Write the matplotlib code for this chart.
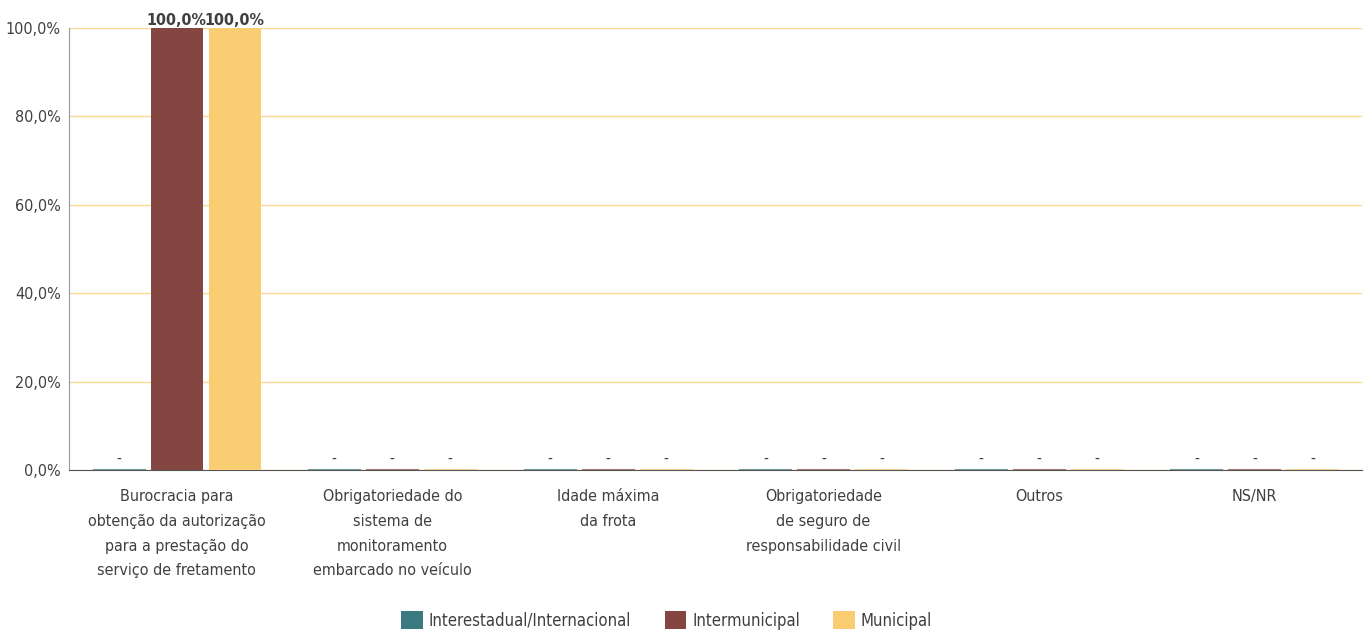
import numpy as np
import matplotlib.pyplot as plt

plt.rcParams['font.family'] = ['DejaVu Sans']
plt.rcParams['font.stretch'] = 'condensed'

categorias = ['Burocracia para\nobtenção da autorização\npara a prestação do\nserviço de fretamento',
              'Obrigatoriedade do\nsistema de\nmonitoramento\nembarcado no veículo',
              'Idade máxima\nda frota',
              'Obrigatoriedade\nde seguro de\nresponsabilidade civil',
              'Outros',
              'NS/NR']
series = ['Interestadual/Internacional', 'Intermunicipal', 'Municipal']
interestadual = [0.0, 0.0, 0.0, 0.0, 0.0, 0.0]
intermunicipal = [100.0, 0.0, 0.0, 0.0, 0.0, 0.0]
municipal = [100.0, 0.0, 0.0, 0.0, 0.0, 0.0]
yticks = [0, 20, 40, 60, 80, 100]

cores = ['#3B7A80', '#844641', '#F9CE72']
texto = '#404040'

fig = plt.figure(figsize=(13.69, 6.32), dpi=100)
ax = fig.add_axes([0.0504, 0.2563, 0.9446, 0.6994])

x = np.arange(len(categorias))
w = 0.241
passo = 0.269
dados = [interestadual, intermunicipal, municipal]
for i, (vals, cor, nome) in enumerate(zip(dados, cores, series)):
    pos = x + (i - 1) * passo
    barras = ax.bar(pos, vals, w, color=cor, label=nome, zorder=3)
    for b, v in zip(barras, vals):
        if v > 0:
            ax.annotate(f'{v:.1f}%'.replace('.', ','), (b.get_x() + b.get_width() / 2, v),
                        xytext=(0, 0), textcoords='offset points', ha='center', va='bottom',
                        fontsize=11.5, fontweight='bold', color=texto)
        else:
            ax.annotate('-', (b.get_x() + b.get_width() / 2, v),
                        xytext=(0, 3), textcoords='offset points', ha='center', va='bottom',
                        fontsize=11, color=texto)
    # linha fina colorida das barras zeradas
    for p, v in zip(pos, vals):
        if v == 0:
            ax.plot([p - w / 2, p + w / 2], [0.12, 0.12], color=cor, lw=0.8, alpha=0.7, zorder=2)

ax.set_xlim(-0.5, len(categorias) - 0.5)
ax.set_ylim(0, 100)
ax.set_yticks(yticks)
ax.set_yticklabels([f'{t:.1f}%'.replace('.', ',') for t in yticks], fontsize=11.5, color=texto)
ax.set_xticks(x)
ax.set_xticklabels(categorias, fontsize=11.5, color=texto, linespacing=1.8)
ax.tick_params(axis='both', length=0)
ax.tick_params(axis='x', pad=14)
ax.tick_params(axis='y', pad=6)
ax.yaxis.grid(True, color='#F9DB95', lw=1, zorder=0)
ax.spines['top'].set_visible(False)
ax.spines['right'].set_visible(False)
ax.spines['left'].set_color('#999999')
ax.spines['bottom'].set_color('#555555')

fig.legend(loc='lower center', bbox_to_anchor=(0.487, -0.02), ncol=3, frameon=False,
           fontsize=12, labelcolor=texto, handlelength=1.3, handleheight=1.3,
           columnspacing=2.0, handletextpad=0.36)

fig.savefig('out.png', dpi=100)
